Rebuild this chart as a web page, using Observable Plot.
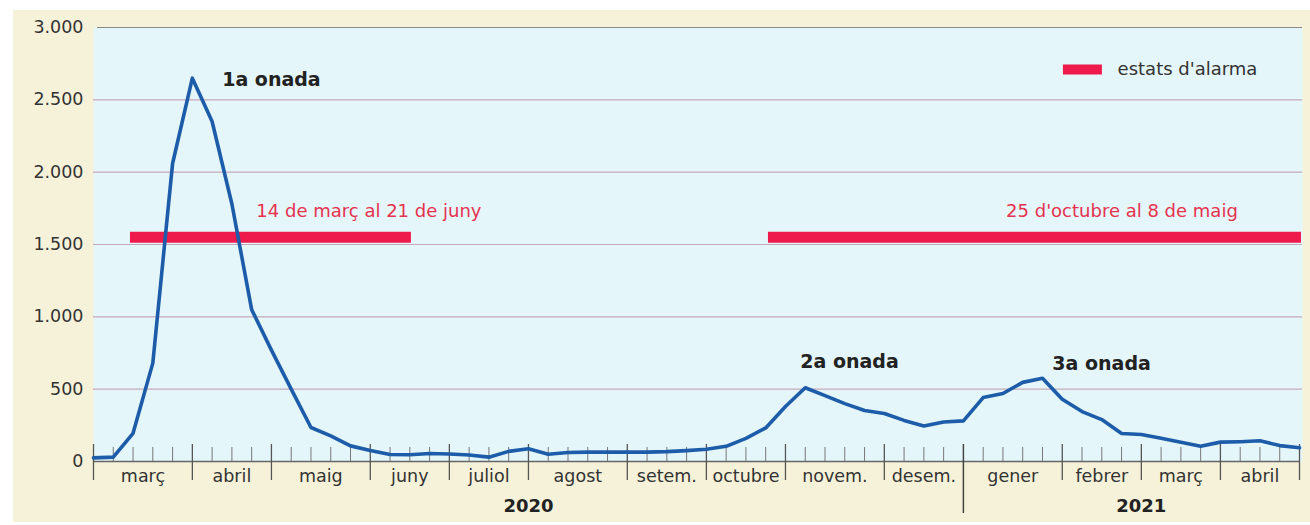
<!DOCTYPE html>
<html><head><meta charset="utf-8">
<script src="https://cdn.jsdelivr.net/npm/d3@7"></script>
<script src="https://cdn.jsdelivr.net/npm/@observablehq/plot@0.6"></script>
<style>
html,body{margin:0;padding:0;background:#fff;}
#wrap{position:relative;width:1310px;height:525px;overflow:hidden;}
#bg{position:absolute;left:13px;top:10px;width:1297px;height:512px;background:#f6f2d9;}
#chart{position:absolute;left:0;top:0;}
</style></head><body>
<div id="wrap"><div id="bg"></div><div id="chart"></div></div>
<script>
// Weekly values, March 2020 – April 2021 (one per week)
const weekly = [25, 30, 195, 680, 2060, 2650, 2350, 1780, 1050, 770,
  500, 235, 177, 108, 76, 48, 47, 55, 52, 45,
  30, 70, 88, 50, 62, 65, 65, 65, 65, 68,
  75, 85, 105, 160, 232, 380, 510, 455, 400, 353,
  332, 284, 245, 273, 281, 442, 470, 547, 575, 430,
  345, 290, 194, 187, 160, 133, 106, 134, 137, 143,
  110, 95];
const monthNames = ["març","abril","maig","juny","juliol","agost","setem.","octubre","novem.","desem.","gener","febrer","març","abril"];
const monthWeeks = [5,4,5,4,4,5,4,4,5,4,5,4,4,4];
const years = ["2020","2021"];
const yearCenters = [22, 53];
const yearBoundary = [44];
const yTicks = [0,500,1000,1500,2000,2500,3000];
const gridValues = [500,1000,1500,2000,2500];
const topValue = [3000];

const alarmLabels = ["14 de març al 21 de juny", "25 d'octubre al 8 de maig"];
const alarmStart = [1.87, 34.14];
const alarmEnd = [16.08, 61.1];
const alarmLevel = [1550, 1550];
const alarmTextX = [13.93, 52.02];
const alarmTextY = [1730, 1730];

const waveLabels = ["1a onada","2a onada","3a onada"];
const waveX = [9.0, 38.24, 50.99];
const waveY = [2640, 690, 673];

const legendLabel = ["estats d'alarma"];
const legendSpan = [49.06, 51.03];
const legendTextX = [51.8];
const legendY = [2710];

// derived
const boundaries = [0];
monthWeeks.forEach(w => boundaries.push(boundaries[boundaries.length-1] + w));
const monthCenters = monthNames.map((_, i) => (boundaries[i] + boundaries[i+1]) / 2);
const totalWeeks = boundaries[boundaries.length-1];
const allWeeks = d3.range(0, totalWeeks + 1);
const minorWeeks = allWeeks.filter(w => !boundaries.includes(w));
const majorWeeks = boundaries.filter(w => !yearBoundary.includes(w));

const loc = d3.formatLocale({decimal: ",", thousands: ".", grouping: [3], currency: ["", "€"]});
const fmt = loc.format(",");

const red = "#ee1a4c";
const ink = "#333";

const chart = Plot.plot({
  width: 1310, height: 525,
  marginLeft: 93, marginRight: 11, marginTop: 27, marginBottom: 64,
  style: {background: "transparent", fontFamily: "DejaVu Sans", color: ink, overflow: "visible"},
  x: {domain: [0, totalWeeks], axis: null},
  y: {domain: [0, 3000], axis: null},
  marks: [
    Plot.frame({fill: "#e5f6fa", stroke: null, insetRight: -3}),
    Plot.ruleY(gridValues, {stroke: "#c7a9b9", strokeWidth: 1.2, insetRight: -3}),
    Plot.ruleY(topValue, {stroke: "#8a8a8a", strokeWidth: 1.2, insetLeft: 4, insetRight: -3}),
    Plot.ruleY([0], {stroke: "#666", strokeWidth: 1.4}),
    Plot.ruleX(minorWeeks, {x: d => d, insetTop: 420, stroke: "#777", strokeWidth: 1}),
    Plot.ruleX(majorWeeks, {x: d => d, insetTop: 417, insetBottom: -19, stroke: "#555", strokeWidth: 1.3}),
    Plot.ruleX(yearBoundary, {x: d => d, insetTop: 417, insetBottom: -52, stroke: "#444", strokeWidth: 1.5}),
    Plot.axisY(yTicks, {tickSize: 0, tickPadding: 10, fontSize: 17.5, tickFormat: fmt, fill: ink}),
    Plot.text(monthNames, {x: (d, i) => monthCenters[i], frameAnchor: "bottom", dy: 20, text: d => d, fontSize: 17.5, fill: ink}),
    Plot.text(years, {x: (d, i) => yearCenters[i], frameAnchor: "bottom", dy: 50, text: d => d, fontSize: 18, fontWeight: "bold", fill: "#222"}),
    Plot.ruleY(alarmLabels, {y: (d, i) => alarmLevel[i], x1: (d, i) => alarmStart[i], x2: (d, i) => alarmEnd[i], stroke: red, strokeWidth: 11}),
    Plot.text(alarmLabels, {x: (d, i) => alarmTextX[i], y: (d, i) => alarmTextY[i], text: d => d, fontSize: 18, fill: "#e5324f"}),
    Plot.line(weekly, {x: (d, i) => i, y: d => d, stroke: "#1c5ca9", strokeWidth: 3.6, strokeLinejoin: "round"}),
    Plot.text(waveLabels, {x: (d, i) => waveX[i], y: (d, i) => waveY[i], text: d => d, fontSize: 19, fontWeight: "bold", fill: "#222"}),
    Plot.ruleY(legendLabel, {y: (d, i) => legendY[i], x1: () => legendSpan[0], x2: () => legendSpan[1], stroke: red, strokeWidth: 10}),
    Plot.text(legendLabel, {x: (d, i) => legendTextX[i], y: (d, i) => legendY[i], text: d => d, textAnchor: "start", fontSize: 18, fill: ink})
  ]
});
document.getElementById("chart").appendChild(chart);
</script>
</body></html>
